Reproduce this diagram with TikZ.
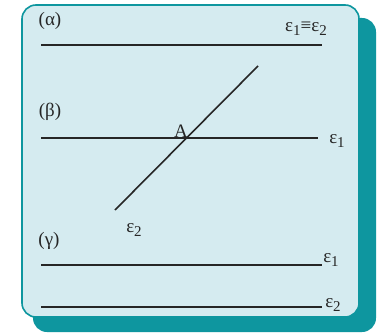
\documentclass[tikz,border=0pt]{standalone}
\usepackage{fontspec}
\setmainfont{Liberation Serif}
\newcommand{\sbs}[1]{\raisebox{-0.45ex}{\fontsize{15}{15}\selectfont #1}}
\begin{document}
\begin{tikzpicture}[x=1pt,y=-1pt,
  ln/.style={line width=1.6pt,black!85},
  lbl/.style={inner sep=0pt,text=black!85,font=\fontsize{19}{21}\selectfont}]
\definecolor{teal0}{HTML}{0E969F}
\definecolor{pale}{HTML}{D5EBF0}
\useasboundingbox (0,0) rectangle (379,334);
\fill[white] (0,0) rectangle (379,334);
\fill[teal0,rounded corners=14pt] (33,18) rectangle (376,332);
\draw[teal0,fill=pale,line width=1.6pt,rounded corners=14pt] (22,5) rectangle (359,317);
% alpha
\coordinate (a1) at (41,45); \coordinate (a2) at (322,45);
\draw[ln] (a1) -- (a2);
\node[lbl] (la) at (50,21) {(α)};
\node[lbl] (lae) at (306,29) {ε\sbs{1}≡ε\sbs{2}};
% beta
\coordinate (b1) at (41,138); \coordinate (b2) at (318,138);
\draw[ln] (b1) -- (b2);
\coordinate (d1) at (258,66); \coordinate (d2) at (115,210);
\draw[ln] (d1) -- (d2);
\node[lbl] (lb) at (50,112) {(β)};
\node[lbl] (lA) at (181,131) {A};
\node[lbl] (lb1) at (337,141) {ε\sbs{1}};
\node[lbl] (lb2) at (134,230) {ε\sbs{2}};
% gamma
\coordinate (g1) at (41,265); \coordinate (g2) at (322,265);
\coordinate (h1) at (41,307); \coordinate (h2) at (322,307);
\draw[ln] (g1) -- (g2);
\draw[ln] (h1) -- (h2);
\node[lbl] (lg) at (49,241) {(γ)};
\node[lbl] (lg1) at (331,260) {ε\sbs{1}};
\node[lbl] (lg2) at (333,305) {ε\sbs{2}};
\end{tikzpicture}
\end{document}
